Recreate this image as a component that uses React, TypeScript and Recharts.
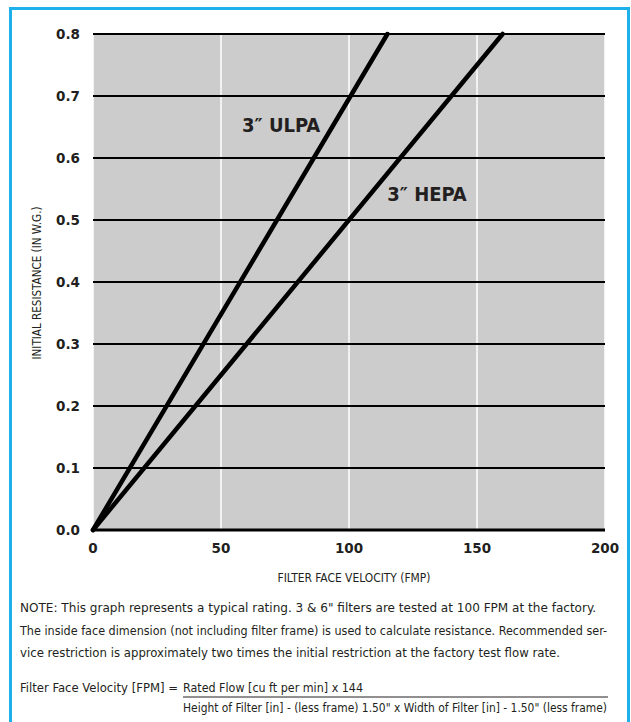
import { LineChart, Line, XAxis, YAxis, CartesianGrid, ReferenceDot } from "recharts";

const ulpaVelocity = [0, 115];
const ulpaResistance = [0, 0.8];
const hepaVelocity = [0, 160];
const hepaResistance = [0, 0.8];

const xTicks = [0, 50, 100, 150, 200];
const yTicks = [0, 0.1, 0.2, 0.3, 0.4, 0.5, 0.6, 0.7, 0.8];

const seriesLabels = [
  { name: "3\u2033 ULPA", v: 73.5, r: 0.653 },
  { name: "3\u2033 HEPA", v: 130.5, r: 0.542 },
];

const noteLines = [
  "NOTE: This graph represents a typical rating. 3 & 6\" filters are tested at 100 FPM at the factory.",
  "The inside face dimension (not including filter frame) is used to calculate resistance. Recommended ser-",
  "vice restriction is approximately two times the initial restriction at the factory test flow rate.",
];

const ulpa = ulpaVelocity.map((v, i) => ({ v, r: ulpaResistance[i] }));
const hepa = hepaVelocity.map((v, i) => ({ v, r: hepaResistance[i] }));

const NARROW = "'Liberation Sans Narrow', 'DejaVu Sans Condensed', 'Roboto Condensed', sans-serif";
const BOLD = "'DejaVu Sans', Verdana, sans-serif";
const INK = "#231f20";

const tickStyle = { fill: INK, fontFamily: BOLD, fontWeight: 700, fontSize: 13.5 };

export default function App() {
  return (
    <div style={{ position: "absolute", left: 0, top: 0, width: 631, height: 722, background: "#fff", overflow: "hidden" }}>
      <div
        style={{
          position: "absolute",
          left: 9,
          top: 7,
          width: 621,
          height: 740,
          border: "3px solid #1db0ea",
          boxSizing: "border-box",
        }}
      />
      <div style={{ position: "absolute", left: 0, top: 0 }}>
        <LineChart width={631} height={560} margin={{ top: 34, right: 26, bottom: 0, left: 0 }}>
          <CartesianGrid horizontal={false} stroke="#ffffff" strokeWidth={1.5} fill="#cccccc" />
          <CartesianGrid vertical={false} stroke="#000000" strokeWidth={2} />
          <XAxis
            dataKey="v"
            type="number"
            domain={[0, 200]}
            ticks={xTicks}
            height={30}
            tickSize={0}
            tickMargin={13}
            tickLine={false}
            axisLine={{ stroke: "#000", strokeWidth: 3 }}
            tick={tickStyle}
            allowDuplicatedCategory={false}
          />
          <YAxis
            dataKey="r"
            type="number"
            domain={[0, 0.8]}
            ticks={yTicks}
            width={93}
            tickSize={0}
            tickMargin={13}
            tickLine={false}
            axisLine={false}
            tick={tickStyle}
            tickFormatter={(t: number) => t.toFixed(1)}
          />
          <Line
            data={ulpa}
            dataKey="r"
            stroke="#000"
            strokeWidth={4.5}
            strokeLinecap="round"
            dot={false}
            isAnimationActive={false}
          />
          <Line
            data={hepa}
            dataKey="r"
            stroke="#000"
            strokeWidth={4.5}
            strokeLinecap="round"
            dot={false}
            isAnimationActive={false}
          />
          {seriesLabels.map((s) => (
            <ReferenceDot
              key={s.name}
              x={s.v}
              y={s.r}
              r={1}
              fill="none"
              stroke="none"
              ifOverflow="visible"
              label={{
                value: s.name,
                position: "center",
                fill: INK,
                fontFamily: NARROW,
                fontWeight: 700,
                fontSize: 20,
              }}
            />
          ))}
        </LineChart>
      </div>
      <svg width={631} height={722} style={{ position: "absolute", left: 0, top: 0, pointerEvents: "none" }}>
        <text
          transform="translate(41,283) rotate(-90)"
          textAnchor="middle"
          fontFamily={NARROW}
          fontSize={12}
          fill={INK}
          textLength={153}
          lengthAdjust="spacingAndGlyphs"
        >
          INITIAL RESISTANCE (IN W.G.)
        </text>
        <text
          x={354}
          y={582}
          textAnchor="middle"
          fontFamily={NARROW}
          fontSize={12}
          fill={INK}
          textLength={153}
          lengthAdjust="spacingAndGlyphs"
        >
          FILTER FACE VELOCITY (FMP)
        </text>
        {noteLines.map((line, i) => (
          <text
            key={i}
            x={20}
            y={612 + i * 22.5}
            fontFamily={NARROW}
            fontSize={12}
            fill={INK}
            textLength={[576, 587, 540][i]}
            lengthAdjust="spacingAndGlyphs"
          >
            {line}
          </text>
        ))}
        <text x={20} y={692} fontFamily={NARROW} fontSize={12} fill={INK} textLength={158} lengthAdjust="spacingAndGlyphs">
          Filter Face Velocity [FPM] =
        </text>
        <text x={183} y={692} fontFamily={NARROW} fontSize={12} fill={INK} textLength={180} lengthAdjust="spacingAndGlyphs">
          Rated Flow [cu ft per min] x 144
        </text>
        <line x1={183} y1={697} x2={608} y2={697} stroke={INK} strokeWidth={1} />
        <text x={183} y={712} fontFamily={NARROW} fontSize={12} fill={INK} textLength={424} lengthAdjust="spacingAndGlyphs">
          Height of Filter [in] - (less frame) 1.50" x Width of Filter [in] - 1.50" (less frame)
        </text>
      </svg>
    </div>
  );
}
